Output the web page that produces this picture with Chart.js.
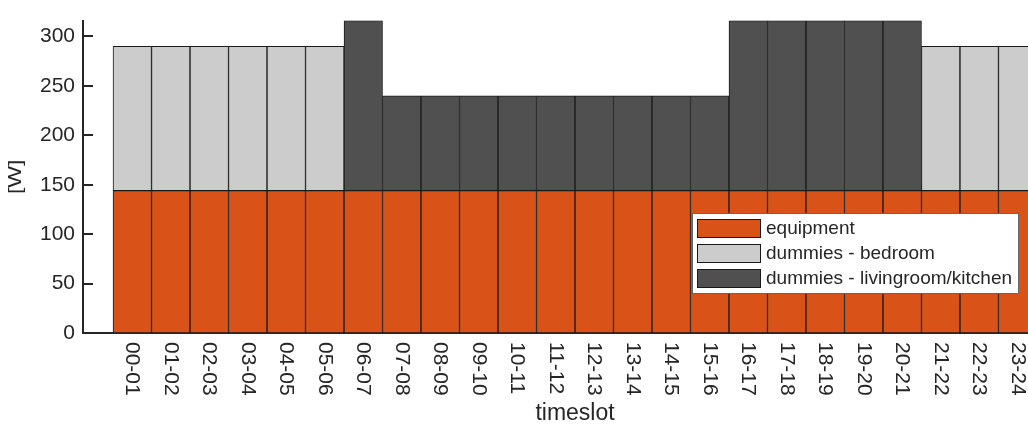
<!DOCTYPE html>
<html>
<head>
<meta charset="utf-8">
<script src="https://cdn.jsdelivr.net/npm/chart.js@4"></script>
<style>
    html, body { margin: 0; padding: 0; background: #fff; overflow: hidden; }
    #wrap { width: 1028px; height: 429px; overflow: hidden; }
</style>
</head>
<body>
<div id="wrap"><canvas id="chart" width="1067" height="429"></canvas></div>
<script>
// Franjas horarias
const slots = ['00-01', '01-02', '02-03', '03-04', '04-05', '05-06', '06-07', '07-08',
    '08-09', '09-10', '10-11', '11-12', '12-13', '13-14', '14-15', '15-16',
    '16-17', '17-18', '18-19', '19-20', '20-21', '21-22', '22-23', '23-24'];

// Potencia [W] por franja
const equipment = [144, 144, 144, 144, 144, 144, 144, 144, 144, 144, 144, 144,
    144, 144, 144, 144, 144, 144, 144, 144, 144, 144, 144, 144];
const bedroom = [146, 146, 146, 146, 146, 146, 0, 0, 0, 0, 0, 0,
    0, 0, 0, 0, 0, 0, 0, 0, 0, 146, 146, 146];
const livingroom = [0, 0, 0, 0, 0, 0, 172, 96, 96, 96, 96, 96,
    96, 96, 96, 96, 172, 172, 172, 172, 172, 0, 0, 0];

const yTicks = [0, 50, 100, 150, 200, 250, 300];

const TEXT = '#262626';
const FONT = 'Arial, "Liberation Sans", sans-serif';

const toPoints = arr => arr.map((v, i) => ({ x: i, y: v }));

// Etiquetas del eje x giradas, marcas hacia dentro y leyenda
const extrasPlugin = {
    id: 'extras',
    afterDraw(chart) {
        const ctx = chart.ctx;
        const xs = chart.scales.x;
        const ys = chart.scales.y;
        const area = chart.chartArea;
        ctx.save();
        ctx.fillStyle = TEXT;

        // etiquetas de franja
        ctx.font = '21px ' + FONT;
        ctx.textAlign = 'left';
        ctx.textBaseline = 'middle';
        slots.forEach((s, i) => {
            const px = xs.getPixelForValue(i);
            ctx.save();
            ctx.translate(px, area.bottom + 9);
            ctx.rotate(Math.PI / 2);
            ctx.fillText(s, 0, 0);
            ctx.restore();
        });

        // marcas del eje y hacia dentro
        ctx.strokeStyle = TEXT;
        ctx.lineWidth = 2;
        yTicks.forEach(v => {
            const py = Math.round(ys.getPixelForValue(v));
            ctx.beginPath();
            ctx.moveTo(area.left, py);
            ctx.lineTo(area.left + 10, py);
            ctx.stroke();
        });

        // titulos
        ctx.font = '23px ' + FONT;
        ctx.textAlign = 'center';
        ctx.textBaseline = 'alphabetic';
        ctx.fillText('timeslot', (area.left + area.right) / 2, 420);
        ctx.save();
        ctx.translate(16, (area.top + area.bottom) / 2);
        ctx.rotate(-Math.PI / 2);
        ctx.scale(1, 0.8);
        ctx.textBaseline = 'middle';
        ctx.fillText('[W]', 0, 0);
        ctx.restore();

        // leyenda
        const lx = 692, ly = 213, lw = 326, lh = 80;
        ctx.fillStyle = '#fff';
        ctx.fillRect(lx, ly, lw, lh);
        ctx.strokeStyle = '#666';
        ctx.lineWidth = 1;
        ctx.strokeRect(lx + 0.5, ly + 0.5, lw, lh);
        ctx.font = '19px ' + FONT;
        ctx.textAlign = 'left';
        ctx.textBaseline = 'middle';
        chart.data.datasets.forEach((ds, i) => {
            const ry = ly + 6 + i * 25;
            ctx.fillStyle = ds.backgroundColor;
            ctx.fillRect(lx + 5, ry, 63, 18);
            ctx.strokeStyle = '#1a1a1a';
            ctx.strokeRect(lx + 5.5, ry + 0.5, 63, 18);
            ctx.fillStyle = TEXT;
            ctx.fillText(ds.label, lx + 74, ry + 10);
        });
        ctx.restore();
    }
};

new Chart(document.getElementById('chart'), {
    type: 'bar',
    data: {
        datasets: [
            { label: 'equipment', data: toPoints(equipment), backgroundColor: '#D95319' },
            { label: 'dummies - bedroom', data: toPoints(bedroom), backgroundColor: '#CCCCCC' },
            { label: 'dummies - livingroom/kitchen', data: toPoints(livingroom), backgroundColor: '#505050' }
        ]
    },
    options: {
        responsive: false,
        animation: false,
        devicePixelRatio: 1,
        layout: { padding: { top: 7, right: 0, left: 0, bottom: 0 } },
        datasets: {
            bar: {
                borderColor: '#1a1a1a',
                borderWidth: 1,
                borderSkipped: false,
                categoryPercentage: 1,
                barPercentage: 1
            }
        },
        plugins: {
            legend: { display: false },
            tooltip: { enabled: false }
        },
        scales: {
            x: {
                type: 'linear',
                stacked: true,
                offset: false,
                min: -1.28,
                max: 24.28,
                ticks: { display: false },
                grid: { display: false, offset: false },
                border: { display: true, color: TEXT, width: 2 },
                afterFit: s => { s.height = 96; }
            },
            y: {
                stacked: true,
                min: 0,
                max: 316,
                afterBuildTicks: s => { s.ticks = yTicks.map(v => ({ value: v })); },
                ticks: {
                    color: TEXT,
                    padding: 8,
                    font: { family: FONT, size: 21 }
                },
                grid: { display: false, drawTicks: false },
                border: { display: true, color: TEXT, width: 2 },
                afterFit: s => { s.width = 83; }
            }
        }
    },
    plugins: [extrasPlugin]
});
</script>
</body>
</html>
